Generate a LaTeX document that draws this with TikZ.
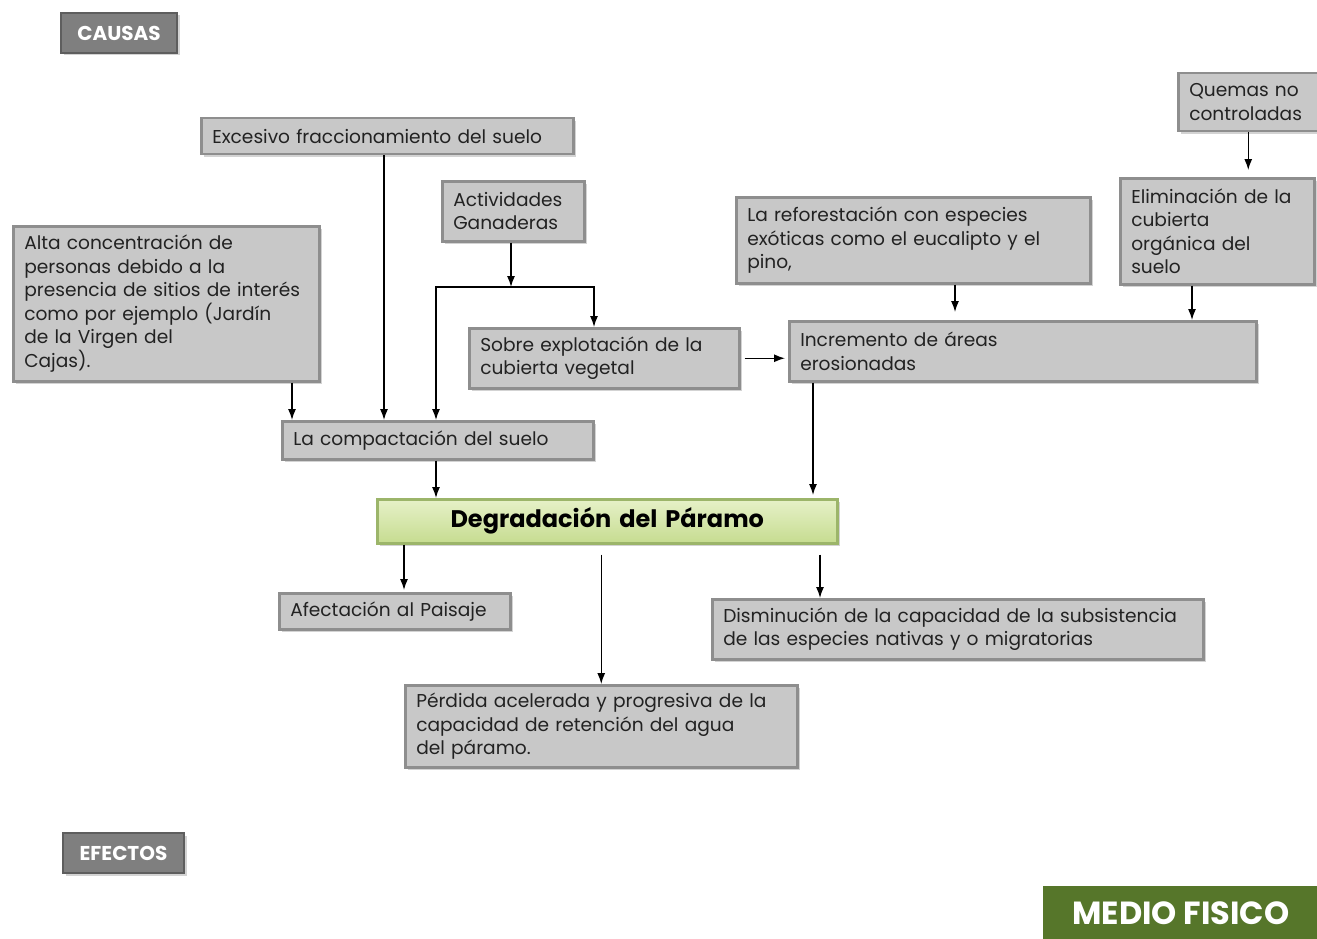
\documentclass[tikz,border=0pt]{standalone}
\usepackage{fontspec}
\setmainfont{Poppins}
\usetikzlibrary{calc, positioning, shadows, arrows.meta}

\definecolor{boxface}{HTML}{C8C8C8}
\definecolor{boxedge}{HTML}{8E8E8E}
\definecolor{tagface}{HTML}{7F7F7F}
\definecolor{tagedge}{HTML}{5E5E5E}
\definecolor{greentop}{HTML}{E6F1C8}
\definecolor{greenbot}{HTML}{C6DC90}
\definecolor{greenedge}{HTML}{9CB56A}
\definecolor{olive}{HTML}{56762A}
\definecolor{ink}{HTML}{222222}

\begin{document}
\begin{tikzpicture}[x=1pt, y=-1pt,
  box/.style={draw=boxedge, line width=2.5pt, fill=boxface, anchor=north west, align=left, text=ink,
    inner xsep=11pt, inner ysep=3pt, font=\fontsize{18.6}{23.5}\selectfont,
    drop shadow={shadow xshift=2.5pt, shadow yshift=-2.5pt, opacity=0.35}},
  tag/.style={draw=tagedge, line width=2pt, fill=tagface, anchor=north west, text=white,
    font=\bfseries\fontsize{20}{22}\selectfont,
    drop shadow={shadow xshift=2.5pt, shadow yshift=-2.5pt, opacity=0.35}},
  arr/.style={-{Latex[length=11pt, width=8pt]}, line width=1.3pt}]
\useasboundingbox (0,0) rectangle (1317,939);

% causas
\node[tag, minimum width=116pt, minimum height=40pt] (causas) at (60,12) {CAUSAS};
\node[box, text width=350pt, minimum height=36pt] (excesivo) at (200,117) {Excesivo fraccionamiento del suelo};
\node[box, text width=120pt, minimum height=60pt] (activ) at (441,180) {Actividades\\Ganaderas};
\node[box, text width=284pt, minimum height=155pt] (alta) at (12,225) {Alta concentración de\\personas debido a la\\presencia de sitios de interés\\como por ejemplo (Jardín\\de la  Virgen del\\Cajas).};
\node[box, text width=332pt, minimum height=86pt] (refor) at (735,196) {La reforestación con especies\\exóticas como el eucalipto y el\\pino,};
\node[box, text width=118pt, minimum height=58pt] (quemas) at (1177,72) {Quemas no\\controladas};
\node[box, text width=172pt, minimum height=106pt] (elimin) at (1119,177) {Eliminación de la\\cubierta\\orgánica del\\suelo};
\node[box, text width=248pt, minimum height=60pt] (sobre) at (468,327) {Sobre explotación de la\\cubierta vegetal};
\node[box, text width=445pt, minimum height=60pt] (increm) at (788,320) {Incremento de áreas\\erosionadas};
\node[box, text width=289pt, minimum height=38pt] (compact) at (281,420) {La compactación del suelo};

% problema central
\node[box, draw=greenedge, top color=greentop, bottom color=greenbot, align=center, text=black,
  text width=438pt, minimum height=44pt, font=\bfseries\fontsize{24}{26}\selectfont] (degrad) at (376,498) {Degradación del Páramo};

% efectos
\node[box, text width=209pt, minimum height=36pt] (afect) at (278,592) {Afectación al Paisaje};
\node[box, text width=469pt, minimum height=60pt] (dismin) at (711,598) {Disminución de la capacidad de la subsistencia\\de las especies nativas y o migratorias};
\node[box, text width=370pt, minimum height=82pt] (perdida) at (404,684) {Pérdida acelerada y progresiva de la\\capacidad de retención del agua\\del páramo.};
\node[tag, minimum width=121pt, minimum height=40pt] (efectos) at (62,832) {EFECTOS};
\node[tag, draw=olive, fill=olive, minimum width=274pt, minimum height=53pt,
  font=\bfseries\fontsize{32}{34}\selectfont] (medio) at (1043,886) {MEDIO FISICO};

% columnas de flechas
\coordinate (c292) at (292,0);
\coordinate (c384) at (384,0);
\coordinate (c436) at (436,0);
\coordinate (c594) at (594,0);
\coordinate (c955) at (955,0);
\coordinate (c1192) at (1192,0);
\coordinate (c813) at (813,0);
\coordinate (c404) at (404,0);
\coordinate (c820) at (820,0);
\coordinate (junc) at (511,287);

\draw[arr] (alta.south -| c292) -- (compact.north -| c292);
\draw[arr] (excesivo.south -| c384) -- (compact.north -| c384);
\draw[arr] (activ.south -| junc) -- (junc);
\draw[arr] (junc) -| (sobre.north -| c594);
\draw[arr] (junc) -| (compact.north -| c436);
\draw[arr, shorten <=4pt, shorten >=3pt] (sobre.east) -- (sobre.east -| increm.west);
\draw[arr, shorten >=8pt] (refor.south -| c955) -- (increm.north -| c955);
\draw[arr, shorten >=7pt] (quemas.south) -- (elimin.north -| quemas.south);
\draw[arr] (elimin.south -| c1192) -- (increm.north -| c1192);
\draw[arr, shorten >=3pt] (increm.south -| c813) -- (degrad.north -| c813);
\draw[arr] (compact.south -| c436) -- (degrad.north -| c436);
\draw[arr, shorten >=2pt] (degrad.south -| c404) -- (afect.north -| c404);
\draw[arr, shorten <=10pt] (degrad.south -| perdida.north) -- (perdida.north);
\draw[arr, shorten <=10pt] (degrad.south -| c820) -- (dismin.north -| c820);
\end{tikzpicture}
\end{document}
